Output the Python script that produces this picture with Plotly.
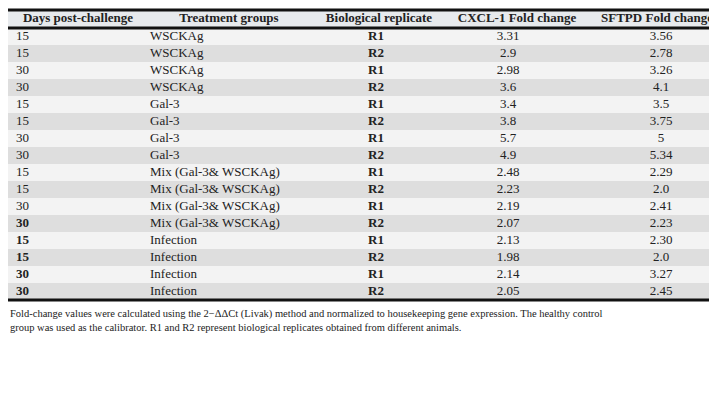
import plotly.graph_objects as go

days = ["15", "15", "30", "30", "15", "15", "30", "30",
        "15", "15", "30", "30", "15", "15", "30", "30"]
days_bold = [False] * 11 + [True] * 5
groups = ["WSCKAg"] * 4 + ["Gal-3"] * 4 + ["Mix (Gal-3& WSCKAg)"] * 4 + ["Infection"] * 4
replicates = ["R1", "R2"] * 8
cxcl1 = ["3.31", "2.9", "2.98", "3.6", "3.4", "3.8", "5.7", "4.9",
         "2.48", "2.23", "2.19", "2.07", "2.13", "1.98", "2.14", "2.05"]
sftpd = ["3.56", "2.78", "3.26", "4.1", "3.5", "3.75", "5", "5.34",
         "2.29", "2.0", "2.41", "2.23", "2.30", "2.0", "3.27", "2.45"]
headers = ["Days post-challenge", "Treatment groups", "Biological replicate",
           "CXCL-1 Fold change", "SFTPD Fold change"]

footnote = ("Fold-change values were calculated using the 2\u2212\u0394\u0394Ct (Livak) method and normalized to housekeeping gene expression. The healthy control<br>"
            "group was used as the calibrator. R1 and R2 represent biological replicates obtained from different animals.")

W, H = 717, 405
ROW_H, TOP, HEAD_H = 17, 2, 18
n = len(days)
row_y = [TOP + HEAD_H + ROW_H * i + ROW_H / 2 for i in range(n)]
head_y = TOP + HEAD_H / 2
font = dict(family="Liberation Serif", size=13, color="#222")

fig = go.Figure()
# row backgrounds
fig.add_trace(go.Bar(y=row_y, x=[W] * n, base=0, orientation="h", width=ROW_H,
                     marker=dict(color=["#f3f3f3" if i % 2 == 0 else "#dedede" for i in range(n)],
                                 line=dict(width=0)),
                     hoverinfo="skip"))
fig.add_trace(go.Bar(y=[head_y], x=[W], base=0, orientation="h", width=HEAD_H,
                     marker=dict(color="#e7eaed", line=dict(width=0)), hoverinfo="skip"))

# header
head_x = [70, 221, 371, 509, 649]
fig.add_trace(go.Scatter(x=head_x, y=[head_y] * 5, mode="text",
                         text=["<b>%s</b>" % h for h in headers],
                         textposition="middle center", textfont=font, hoverinfo="skip"))

# body columns
cols = [
    (8, ["<b>%s</b>" % d if b else d for d, b in zip(days, days_bold)], "middle right"),
    (142, groups, "middle right"),
    (368, ["<b>%s</b>" % r for r in replicates], "middle center"),
    (500, cxcl1, "middle center"),
    (653, sftpd, "middle center"),
]
for x, txt, pos in cols:
    fig.add_trace(go.Scatter(x=[x] * n, y=row_y, mode="text", text=txt,
                             textposition=pos, textfont=font, hoverinfo="skip"))

bottom = TOP + HEAD_H + ROW_H * n
for yp in [TOP, TOP + HEAD_H, bottom]:
    fig.add_shape(type="line", xref="paper", yref="y", x0=0, x1=1,
                  y0=yp, y1=yp, line=dict(color="#111", width=3))

fig.add_annotation(text=footnote, xref="paper", yref="y", x=0, y=bottom + 6,
                   xanchor="left", yanchor="top", align="left", showarrow=False,
                   font=dict(family="Liberation Serif", size=10.5, color="#222"))

fig.update_xaxes(range=[0, W], visible=False, fixedrange=True)
fig.update_yaxes(range=[H, 0], visible=False, fixedrange=True)
fig.update_layout(width=W, height=H, margin=dict(l=0, r=0, t=0, b=0),
                  paper_bgcolor="white", plot_bgcolor="white", showlegend=False,
                  bargap=0)
fig.write_html("out.html")
